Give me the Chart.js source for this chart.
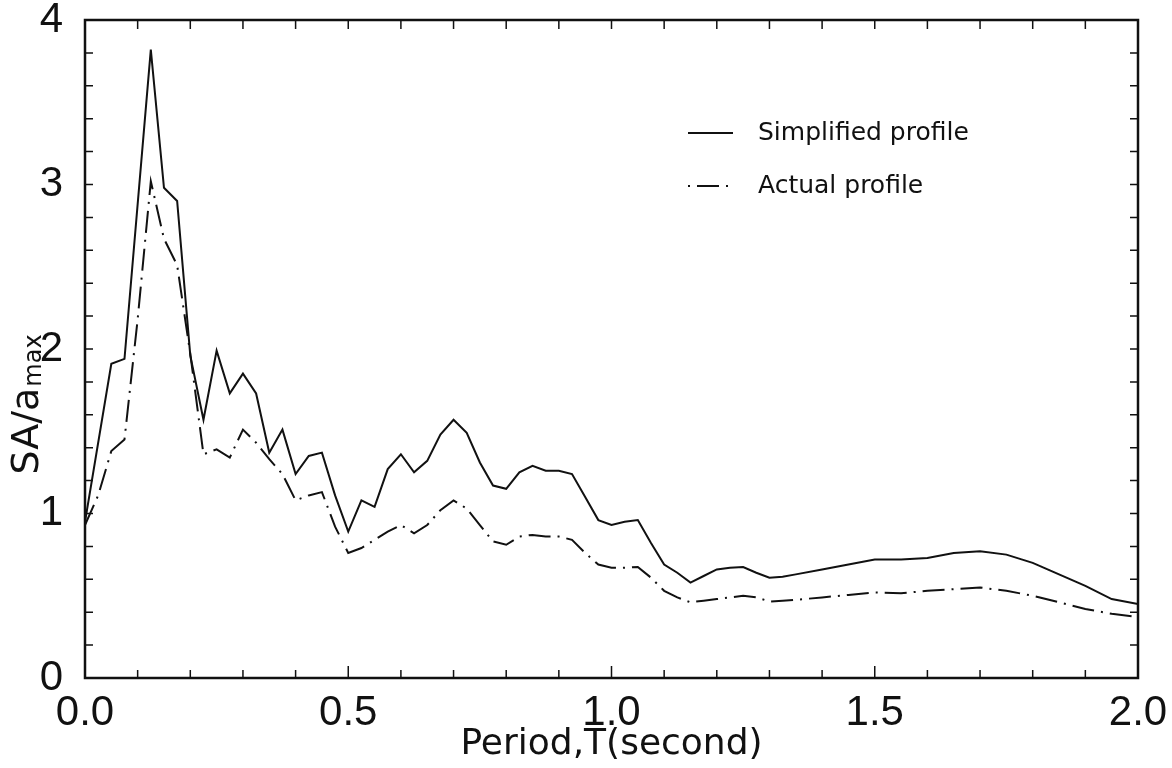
<!DOCTYPE html>
<html>
<head>
<meta charset="utf-8">
<script src="https://cdn.jsdelivr.net/npm/chart.js@4.4.1/dist/chart.umd.min.js"></script>
<style>
  html, body { margin: 0; padding: 0; background: #fff; }
  #wrap { width: 1172px; height: 768px; }
</style>
</head>
<body>
<div id="wrap"><canvas id="chart" width="1172" height="768"></canvas></div>
<script>
// period T (s) - 0.025 s steps up to 1.35, then 0.05 s
const periods = [
  0, 0.025, 0.05, 0.075, 0.1, 0.125, 0.15, 0.175, 0.2, 0.225,
  0.25, 0.275, 0.3, 0.325, 0.35, 0.375, 0.4, 0.425, 0.45, 0.475,
  0.5, 0.525, 0.55, 0.575, 0.6, 0.625, 0.65, 0.675, 0.7, 0.725,
  0.75, 0.775, 0.8, 0.825, 0.85, 0.875, 0.9, 0.925, 0.95, 0.975,
  1.0, 1.025, 1.05, 1.075, 1.1, 1.125, 1.15, 1.175, 1.2, 1.225,
  1.25, 1.275, 1.3, 1.325, 1.35, 1.4, 1.45, 1.5, 1.55, 1.6,
  1.65, 1.7, 1.75, 1.8, 1.85, 1.9, 1.95, 2.0
];
// SA/amax, simplified profile (null = no vertex read at that period)
const simplified = [
  0.95, null, 1.91, 1.94, null, 3.82, 2.98, 2.90, 1.96, 1.57,
  1.99, 1.73, 1.85, 1.73, 1.37, 1.51, 1.24, 1.35, 1.37, 1.11,
  0.89, 1.08, 1.04, 1.27, 1.36, 1.25, 1.32, 1.48, 1.57, 1.49,
  1.31, 1.17, 1.15, 1.25, 1.29, 1.26, 1.26, 1.24, 1.10, 0.96,
  0.93, 0.95, 0.96, 0.82, 0.69, 0.64, 0.58, 0.62, 0.66, 0.67,
  0.675, 0.64, 0.61, 0.615, 0.63, 0.66, 0.69, 0.72, 0.72, 0.73,
  0.76, 0.77, 0.75, 0.70, 0.63, 0.56, 0.48, 0.45
];
// SA/amax, actual profile
const actual = [
  0.93, 1.11, 1.38, 1.45, 2.18, 3.02, 2.67, 2.51, 1.97, 1.36,
  1.39, 1.34, 1.51, 1.43, 1.33, 1.24, 1.08, 1.11, 1.13, 0.92,
  0.76, 0.79, 0.84, 0.89, 0.93, 0.88, 0.93, 1.02, 1.08, 1.03,
  0.93, 0.83, 0.81, 0.86, 0.87, 0.86, 0.86, 0.84, 0.76, 0.69,
  0.67, 0.67, 0.675, 0.61, 0.53, 0.49, 0.46, 0.47, 0.48, 0.49,
  0.50, 0.49, 0.465, 0.47, 0.475, 0.49, 0.505, 0.52, 0.515, 0.53,
  0.54, 0.55, 0.53, 0.50, 0.46, 0.42, 0.39, 0.37
];
const seriesNames = ["Simplified profile", "Actual profile"];
const xTickLabels = ["0.0", "0.5", "1.0", "1.5", "2.0"];
const yTickLabels = ["0", "1", "2", "3", "4"];

const ink = "#111";
const tickFont = { family: '"Liberation Sans Narrow", "Liberation Sans", sans-serif', size: 42 };

function toPoints(values) {
  return periods
    .map((t, i) => ({ x: t, y: values[i] }))
    .filter(p => p.y !== null);
}

// box round the plot with inward ticks on all four sides
const frame = {
  id: "frame",
  afterDraw(chart) {
    const { ctx, chartArea: a, scales: { x, y } } = chart;
    ctx.save();
    ctx.strokeStyle = ink;
    ctx.lineWidth = 2.5;
    ctx.strokeRect(a.left, a.top, a.right - a.left, a.bottom - a.top);
    ctx.lineWidth = 1.5;
    ctx.beginPath();
    for (let i = 0; i <= 20; i++) {
      const px = x.getPixelForValue(i / 10);
      const len = i % 5 === 0 ? 12 : 8;
      ctx.moveTo(px, a.bottom);
      ctx.lineTo(px, a.bottom - len);
      ctx.moveTo(px, a.top);
      ctx.lineTo(px, a.top + 9);
    }
    for (let i = 0; i <= 20; i++) {
      const py = y.getPixelForValue(i / 5);
      ctx.moveTo(a.left, py);
      ctx.lineTo(a.left + 8, py);
      ctx.moveTo(a.right, py);
      ctx.lineTo(a.right - 8, py);
    }
    ctx.stroke();
    ctx.restore();
  }
};

// legend inside the plot, upper right
const legendBox = {
  id: "legendBox",
  afterDraw(chart) {
    const { ctx, chartArea: a } = chart;
    ctx.save();
    ctx.font = '25px "DejaVu Sans"';
    ctx.fillStyle = ink;
    ctx.textBaseline = "middle";
    chart.data.datasets.forEach((ds, i) => {
      const yy = a.top + 113 + i * 53;
      ctx.strokeStyle = ds.borderColor;
      ctx.lineWidth = ds.borderWidth;
      ctx.setLineDash(ds.borderDash || []);
      ctx.lineDashOffset = ds.borderDash ? 29 : 0;
      ctx.beginPath();
      ctx.moveTo(a.left + 603, yy);
      ctx.lineTo(a.left + 648, yy);
      ctx.stroke();
      ctx.setLineDash([]);
      ctx.fillText(ds.label, a.left + 673, yy);
    });
    ctx.restore();
  }
};

// y title with subscript
const yTitle = {
  id: "yTitle",
  afterDraw(chart) {
    const ctx = chart.ctx;
    const main = "SA/a", sub = "max";
    ctx.save();
    ctx.translate(0, 405);
    ctx.rotate(-Math.PI / 2);
    ctx.fillStyle = ink;
    ctx.font = '38px "DejaVu Sans"';
    const w1 = ctx.measureText(main).width;
    ctx.font = '24px "DejaVu Sans"';
    const w2 = ctx.measureText(sub).width;
    const start = -(w1 + w2) / 2;
    ctx.font = '38px "DejaVu Sans"';
    ctx.fillText(main, start, 38);
    ctx.font = '24px "DejaVu Sans"';
    ctx.fillText(sub, start + w1 + 1, 41);
    ctx.restore();
  }
};

new Chart(document.getElementById("chart"), {
  type: "line",
  data: {
    datasets: [
      {
        label: seriesNames[0],
        data: toPoints(simplified),
        borderColor: ink,
        borderWidth: 2,
        pointRadius: 0,
        tension: 0,
        fill: false
      },
      {
        label: seriesNames[1],
        data: toPoints(actual),
        borderColor: ink,
        borderWidth: 2,
        borderDash: [22, 7, 2, 7],
        pointRadius: 0,
        tension: 0,
        fill: false
      }
    ]
  },
  options: {
    responsive: false,
    animation: false,
    devicePixelRatio: 1,
    layout: { padding: { top: 20, right: 34, left: 0, bottom: 0 } },
    plugins: {
      legend: { display: false },
      tooltip: { enabled: false }
    },
    scales: {
      x: {
        type: "linear",
        min: 0,
        max: 2,
        afterFit(scale) {
          scale.height = 90;
          scale.paddingLeft = 0;
          scale.paddingRight = 0;
        },
        grid: { display: false, drawTicks: false },
        border: { display: false },
        ticks: {
          stepSize: 0.5,
          padding: 10,
          color: ink,
          font: tickFont,
          maxRotation: 0,
          autoSkip: false,
          callback: v => xTickLabels[Math.round(v * 2)]
        },
        title: {
          display: true,
          text: "Period,T(second)",
          color: ink,
          font: { family: '"DejaVu Sans"', size: 36 },
          padding: { top: 0, bottom: 2 }
        }
      },
      y: {
        min: 0,
        max: 4,
        afterFit(scale) {
          scale.width = 85;
          scale.paddingTop = 0;
          scale.paddingBottom = 0;
        },
        grid: { display: false, drawTicks: false },
        border: { display: false },
        ticks: {
          stepSize: 1,
          padding: 22,
          color: ink,
          font: tickFont,
          callback: v => yTickLabels[Math.round(v)]
        }
      }
    }
  },
  plugins: [frame, legendBox, yTitle]
});
</script>
</body>
</html>
